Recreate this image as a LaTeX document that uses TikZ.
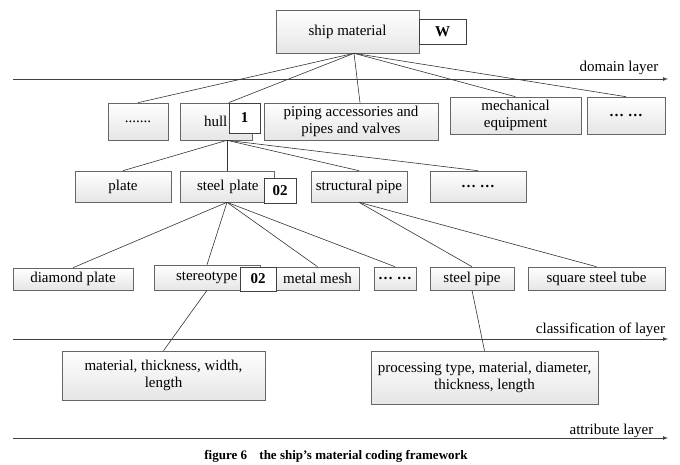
\documentclass[tikz,border=0pt]{standalone}
\usepackage{fontspec}
\setmainfont{Liberation Serif}
\usetikzlibrary{arrows, shadows}

\tikzset{
    itembox/.style={draw=black!60, line width=0.6pt, top color=white, bottom color=black!10,
        drop shadow={shadow xshift=1.2pt, shadow yshift=-1.2pt, fill=black!45},
        inner sep=1pt, font=\fontsize{15}{17}\selectfont, align=center},
    codebox/.style={draw=black!75, line width=0.7pt, fill=white,
        drop shadow={shadow xshift=1.2pt, shadow yshift=-1.2pt, fill=black!45},
        inner sep=1pt, font=\fontsize{15}{17}\selectfont\bfseries},
    link/.style={draw=black!80, line width=0.6pt},
    layer/.style={draw=black!75, line width=0.7pt, -latex},
    layertext/.style={font=\fontsize{15}{17}\selectfont, inner sep=0pt}
}

\begin{document}
\begin{tikzpicture}[x=1pt, y=-1pt]
    \useasboundingbox (0, 0) rectangle (680, 464);

    % layer axes
    \coordinate (dl0) at (13, 79);
    \coordinate (dl1) at (668, 79);
    \coordinate (cl0) at (13, 339);
    \coordinate (cl1) at (668, 339);
    \coordinate (al0) at (13, 438);
    \coordinate (al1) at (668, 438);
    \draw[layer] (dl0) -- (dl1);
    \draw[layer] (cl0) -- (cl1);
    \draw[layer] (al0) -- (al1);
    \node[layertext] (domain) at (619, 68) {domain layer};
    \node[layertext] (classif) at (600.5, 330) {classification of layer};
    \node[layertext] (attrib) at (611.5, 431) {attribute layer};

    % root
    \node[itembox, minimum width=143, minimum height=43] (ship) at (347.5, 31.5) {ship material};
    \node[codebox, minimum width=47, minimum height=25] (codeW) at (442.5, 31.5) {W};

    % domain layer
    \node[itembox, minimum width=60, minimum height=37] (dots1) at (138, 121.5) {.......};
    \node[itembox, minimum width=72, minimum height=37, text width=60, align=left] (hull) at (216, 121.5) {\hspace*{18pt}hull};
    \node[codebox, minimum width=31, minimum height=30] (code1) at (244.5, 118) {1};
    \node[itembox, minimum width=174, minimum height=37] (piping) at (351, 121.5) {piping accessories and\\pipes and valves};
    \node[itembox, minimum width=131, minimum height=37] (mech) at (515.5, 115.5) {mechanical\\equipment};
    \node[itembox, minimum width=78, minimum height=37] (dots2) at (626, 115.5) {\textbf{\ldots} \textbf{\ldots}};

    % classification layer, second level
    \node[itembox, minimum width=96, minimum height=31] (plate) at (123, 186.5) {plate};
    \node[itembox, minimum width=94, minimum height=31, text width=84, align=left] (steel) at (227, 186.5) {\hspace*{12pt}steel plate};
    \node[codebox, minimum width=32, minimum height=25] (code02a) at (280, 190.5) {02};
    \node[itembox, minimum width=96, minimum height=31] (spipe) at (359, 186.5) {structural pipe};
    \node[itembox, minimum width=96, minimum height=31] (dots3) at (478, 186.5) {\textbf{\ldots} \textbf{\ldots}};

    % classification layer, third level
    \node[itembox, minimum width=120, minimum height=22] (diamond) at (73, 279) {diamond plate};
    \node[itembox, minimum width=106, minimum height=25, text width=96, align=left] (stereo) at (207, 277.5) {\hspace*{17pt}stereotype};
    \node[itembox, minimum width=83, minimum height=23] (mesh) at (317.5, 278.5) {metal mesh};
    \node[codebox, minimum width=36, minimum height=24] (code02b) at (258, 279) {02};
    \node[itembox, minimum width=42, minimum height=23] (dots4) at (395, 278.5) {\textbf{\ldots} \textbf{\ldots}};
    \node[itembox, minimum width=84, minimum height=23] (stpipe) at (472, 278.5) {steel pipe};
    \node[itembox, minimum width=137, minimum height=23] (square) at (596.5, 278.5) {square steel tube};

    % attribute layer
    \node[itembox, minimum width=203, minimum height=49] (attrA) at (163.5, 375.5) {material, thickness, width,\\length};
    \node[itembox, minimum width=227, minimum height=53] (attrB) at (484.5, 377.5) {processing type, material, diameter,\\thickness, length};

    \node[font=\fontsize{13}{15}\selectfont\bfseries] (caption) at (336, 456) {figure 6\hspace{0.7em} the ship{\char39}s material coding framework};

    % connectors
    \coordinate (shipfoot) at ([xshift=6.5]ship.south);
    \coordinate (hullfoot) at ([xshift=11]hull.south);
    \draw[link] (shipfoot) -- (dots1.north);
    \draw[link] (shipfoot) -- (code1.north west);
    \draw[link] (shipfoot) -- ([xshift=9]piping.north);
    \draw[link] (shipfoot) -- (mech.north);
    \draw[link] (shipfoot) -- (dots2.north);

    \draw[link] (hullfoot) -- (plate.north);
    \draw[link] (hullfoot) -- (steel.north);
    \draw[link] (hullfoot) -- (spipe.north);
    \draw[link] (hullfoot) -- (dots3.north);

    \draw[link] (steel.south) -- (diamond.north);
    \draw[link] (steel.south) -- (stereo.north);
    \draw[link] (steel.south) -- (mesh.north);
    \draw[link] (steel.south) -- (dots4.north);

    \draw[link] (spipe.south) -- (stpipe.north);
    \draw[link] (spipe.south) -- (square.north);

    \draw[link] (stereo.south) -- (attrA.north);
    \draw[link] (stpipe.south) -- (attrB.north);
\end{tikzpicture}
\end{document}
